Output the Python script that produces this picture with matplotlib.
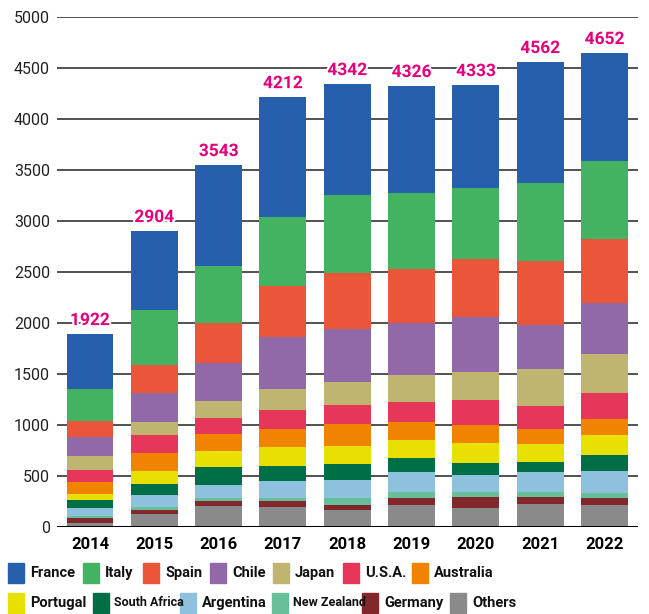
import matplotlib.pyplot as plt
import matplotlib.patheffects as pe
from matplotlib.patches import Rectangle
from matplotlib import font_manager
import numpy as np

plt.rcParams['font.family'] = ['Roboto', 'DejaVu Sans']

# Data
years = ['2014', '2015', '2016', '2017', '2018', '2019', '2020', '2021', '2022']
totals = [1922, 2904, 3543, 4212, 4342, 4326, 4333, 4562, 4652]

# stacked bottom -> top
others = [42, 131, 209, 199, 170, 218, 189, 228, 218]
germany = [49, 39, 49, 59, 48, 70, 108, 69, 70]
new_zealand = [20, 29, 30, 30, 70, 58, 49, 49, 48]
argentina = [78, 118, 127, 165, 176, 196, 167, 196, 216]
south_africa = [79, 108, 176, 147, 157, 137, 117, 98, 157]
portugal = [58, 127, 157, 187, 176, 177, 196, 177, 196]
australia = [118, 176, 167, 177, 216, 176, 177, 147, 157]
usa = [118, 177, 156, 186, 186, 196, 245, 225, 255]
japan = [137, 127, 167, 206, 226, 265, 275, 363, 382]
chile = [179, 282, 366, 503, 519, 503, 532, 431, 500]
spain = [164, 270, 396, 507, 549, 537, 575, 628, 621]
italy = [314, 546, 562, 676, 765, 745, 697, 765, 771]
france = [539, 775, 990, 1176, 1088, 1049, 1009, 1186, 1059]

series = [
    ('Others', others, '#8a8a8a'),
    ('Germany', germany, '#82282d'),
    ('New Zealand', new_zealand, '#66bf98'),
    ('Argentina', argentina, '#8dc1de'),
    ('South Africa', south_africa, '#006f45'),
    ('Portugal', portugal, '#e8e000'),
    ('Australia', australia, '#f08300'),
    ('U.S.A.', usa, '#e6375a'),
    ('Japan', japan, '#bfb570'),
    ('Chile', chile, '#9168a8'),
    ('Spain', spain, '#e9563a'),
    ('Italy', italy, '#43b261'),
    ('France', france, '#2660ad'),
]
colors = {name: c for name, _, c in series}

# narrow face for the two long legend labels, if present
installed = {f.name for f in font_manager.fontManager.ttflist}
narrow_family = ['Liberation Sans Narrow', 'Roboto'] if 'Liberation Sans Narrow' in installed else ['Roboto']

fig = plt.figure(figsize=(6.49, 6.14), dpi=100)
ax = fig.add_axes([57 / 649, 1 - 527 / 614, 581 / 649, 510 / 614])

x = np.arange(len(years))
bottom = np.zeros(len(years))
for name, vals, color in series:
    ax.bar(x, vals, width=0.73, bottom=bottom, color=color, zorder=3, linewidth=0)
    bottom += np.array(vals)

# total labels
for xi, top, total in zip(x, bottom, totals):
    ax.text(xi, top + 55, str(total), ha='center', va='bottom', fontsize=12.5,
            fontweight='bold', color='#e6007e', zorder=5,
            path_effects=[pe.withStroke(linewidth=3, foreground='white')])

ax.set_xlim(-0.513, 8.52)
ax.set_ylim(0, 5000)
ax.set_yticks(range(0, 5001, 500))
ax.grid(axis='y', color='#333333', linewidth=1.2, zorder=1)
ax.axhline(0, color='black', linewidth=2.2, zorder=4)
for s in ax.spines.values():
    s.set_visible(False)
ax.tick_params(axis='y', length=0, pad=5, labelsize=11.5, labelcolor='#222222')
ax.tick_params(axis='x', length=0, pad=7)
ax.set_xticks(x)
ax.set_xticklabels(years, fontsize=12, fontweight='bold')

# legend drawn by hand in two rows
row1 = [('France', 8), ('Italy', 83), ('Spain', 143), ('Chile', 210),
        ('Japan', 273), ('U.S.A.', 343), ('Australia', 412)]
row2 = [('Portugal', 8), ('South Africa', 93), ('Argentina', 180),
        ('New Zealand', 272), ('Germany', 362), ('Others', 450)]
narrow = {'South Africa', 'New Zealand'}
for row, ycen in ((row1, 573), (row2, 603)):
    for name, px in row:
        fig.add_artist(Rectangle((px / 649, 1 - (ycen + 10) / 614), 16 / 649, 20 / 614,
                                 transform=fig.transFigure, color=colors[name]))
        if name in narrow:
            fig.text((px + 21) / 649, 1 - ycen / 614, name, ha='left', va='center',
                     fontsize=9, fontweight='bold', color='#111111',
                     family=narrow_family)
        else:
            fig.text((px + 22) / 649, 1 - ycen / 614, name, ha='left', va='center',
                     fontsize=10.5, fontweight='bold', color='#111111')

fig.savefig('out.png', dpi=100)
